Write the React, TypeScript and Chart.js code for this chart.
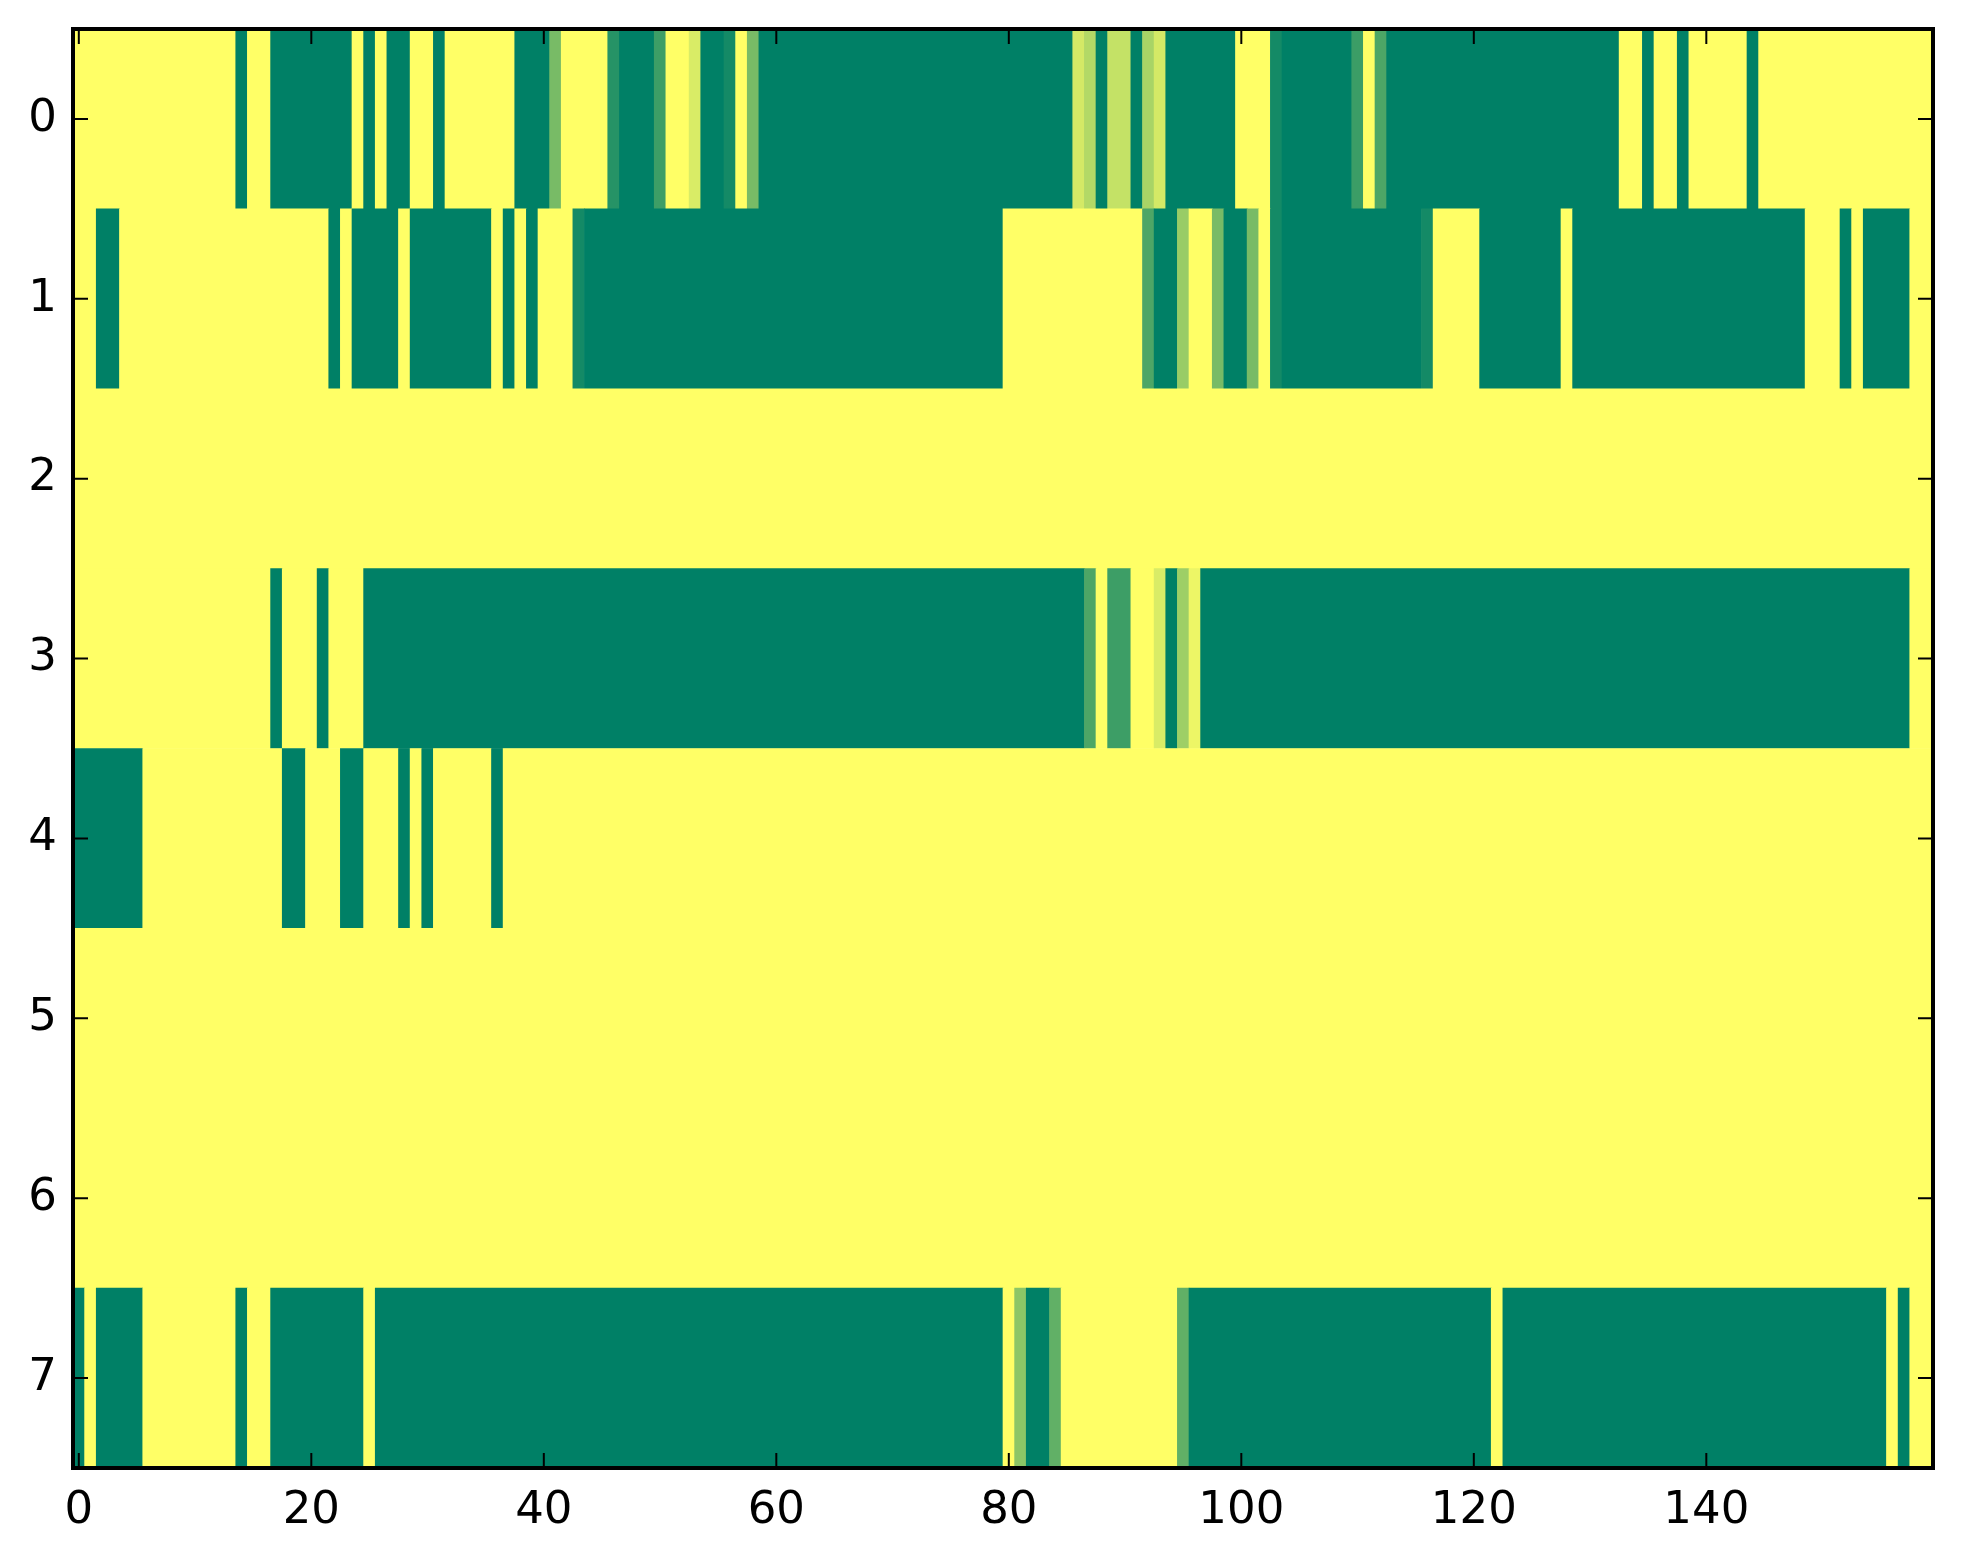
import React, { useEffect, useRef } from "react";
import { Chart, registerables } from "chart.js";

Chart.register(...registerables);

// Row labels (y axis) and x tick values
const rowLabels = ["0", "1", "2", "3", "4", "5", "6", "7"];
const xTickValues = [0, 20, 40, 60, 80, 100, 120, 140];
const xMin = -0.5;
const xMax = 159.5;

// Each row: [value, run length] pairs; value on the 0..1 "summer" colormap
const row0 = [[1,14],[0,1],[1,2],[0,7],[1,1],[0,1],[1,1],[0,2],[1,2],[0,1],[1,6],[0,3],[0.47,1],[1,4],[0.15,1],[0,3],[0.24,1],[1,2],[0.85,1],[0,2],[0.08,1],[1,1],[0.47,1],[0,27],[0.83,1],[0.7,1],[0,1],[0.77,2],[0,1],[0.66,1],[0.83,1],[0,6],[1,3],[0.08,1],[0,6],[0.23,1],[1,1],[0.3,1],[0,20],[1,2],[0,1],[1,2],[0,1],[1,5],[0,1],[1,15]];
const row1 = [[1,2],[0,2],[1,18],[0,1],[1,1],[0,4],[1,1],[0,7],[1,1],[0,1],[1,1],[0,1],[1,3],[0.08,1],[0,36],[1,12],[0.3,1],[0,2],[0.6,1],[1,2],[0.47,1],[0,2],[0.47,1],[1,1],[0.08,1],[0,12],[0.08,1],[1,4],[0,7],[1,1],[0,20],[1,3],[0,1],[1,1],[0,4],[1,2]];
const row2 = [[1,160]];
const row3 = [[1,17],[0,1],[1,3],[0,1],[1,3],[0,62],[0.3,1],[1,1],[0.24,2],[1,2],[0.85,1],[0,1],[0.62,1],[0.93,1],[0,61],[1,2]];
const row4 = [[0,6],[1,12],[0,2],[1,3],[0,2],[1,3],[0,1],[1,1],[0,1],[1,5],[0,1],[1,123]];
const row5 = [[1,160]];
const row6 = [[1,160]];
const row7 = [[0,1],[1,1],[0,4],[1,8],[0,1],[1,2],[0,8],[1,1],[0,54],[1,1],[0.55,1],[0,2],[0.38,1],[1,10],[0.38,1],[0,26],[1,1],[0,33],[1,1],[0,1],[1,2]];

const rows = [row0, row1, row2, row3, row4, row5, row6, row7];

function summer(v: number): string {
  const r = Math.round(255 * v);
  const g = Math.round(255 * (0.5 + 0.5 * v));
  return `rgb(${r},${g},102)`;
}

const FONT = { family: "'DejaVu Sans', sans-serif", size: 45 };

const framePlugin = {
  id: "frameAndInwardTicks",
  afterDraw(chart: any) {
    const { ctx, chartArea } = chart;
    const { left, right, top, bottom } = chartArea;
    const xs = chart.scales.x;
    const ys = chart.scales.y;
    const tickLen = 15;
    ctx.save();
    ctx.strokeStyle = "#000";
    ctx.lineWidth = 2;
    ctx.beginPath();
    for (const v of xTickValues) {
      const px = xs.getPixelForValue(v);
      ctx.moveTo(px, bottom);
      ctx.lineTo(px, bottom - tickLen);
      ctx.moveTo(px, top);
      ctx.lineTo(px, top + tickLen);
    }
    for (let i = 0; i < rowLabels.length; i++) {
      const py = ys.getPixelForValue(i);
      ctx.moveTo(left, py);
      ctx.lineTo(left + tickLen, py);
      ctx.moveTo(right, py);
      ctx.lineTo(right - tickLen, py);
    }
    ctx.stroke();
    ctx.lineWidth = 4;
    ctx.strokeRect(left, top, right - left, bottom - top);
    ctx.restore();
  },
};

export default function App() {
  const canvasRef = useRef<HTMLCanvasElement | null>(null);

  useEffect(() => {
    const canvas = canvasRef.current;
    if (!canvas) return;

    const bars: any[] = [];
    const colors: string[] = [];
    rows.forEach((row, r) => {
      let start = 0;
      for (const [value, count] of row) {
        bars.push({ x: [start - 0.5, start + count - 0.5], y: rowLabels[r] });
        colors.push(summer(value));
        start += count;
      }
    });

    const chart = new Chart(canvas, {
      type: "bar",
      data: {
        labels: rowLabels,
        datasets: [
          {
            data: bars,
            backgroundColor: colors,
            borderWidth: 0,
            barPercentage: 1,
            categoryPercentage: 1,
          },
        ],
      },
      options: {
        indexAxis: "y",
        animation: false,
        responsive: false,
        devicePixelRatio: 1,
        layout: { padding: { left: 8, top: 29, right: 30, bottom: 0 } },
        plugins: {
          legend: { display: false },
          tooltip: { enabled: false },
        },
        scales: {
          x: {
            type: "linear",
            position: "bottom",
            min: xMin,
            max: xMax,
            grid: { display: false, drawTicks: false },
            border: { display: false },
            ticks: {
              font: FONT,
              color: "#000",
              padding: 16,
              maxRotation: 0,
              autoSkip: false,
              includeBounds: false,
            },
            afterBuildTicks: (scale: any) => {
              scale.ticks = xTickValues.map((value) => ({ value }));
            },
            afterFit: (scale: any) => {
              scale.height = 96;
              scale.paddingLeft = 0;
              scale.paddingRight = 0;
            },
          },
          y: {
            type: "category",
            labels: rowLabels,
            offset: true,
            grid: { display: false, drawTicks: false },
            border: { display: false },
            ticks: { font: FONT, color: "#000", padding: 16 },
            afterFit: (scale: any) => {
              scale.width = 65;
              scale.paddingTop = 0;
              scale.paddingBottom = 0;
            },
          },
        },
      },
      plugins: [framePlugin],
    });

    return () => chart.destroy();
  }, []);

  return (
    <div style={{ position: "fixed", left: 0, top: 0, width: 1963, height: 1564, background: "#fff" }}>
      <canvas ref={canvasRef} width={1963} height={1564} style={{ width: 1963, height: 1564 }} />
    </div>
  );
}
